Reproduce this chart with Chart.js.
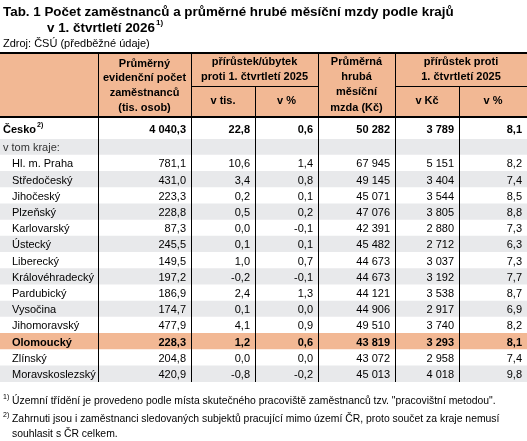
<!DOCTYPE html>
<html><head><meta charset="utf-8">
<script src="https://cdn.jsdelivr.net/npm/chart.js@4/dist/chart.umd.min.js"></script>
<style>html,body{margin:0;padding:0;background:#fff}#w{width:527px;height:441px}</style>
</head><body><div id="w"><canvas id="c"></canvas></div>
<script>
const regions = ['v tom kraje:','Hl. m. Praha','Středočeský','Jihočeský','Plzeňský','Karlovarský','Ústecký','Liberecký','Královéhradecký','Pardubický','Vysočina','Jihomoravský','Olomoucký','Zlínský','Moravskoslezský'];
const employees = ['', '781,1','431,0','223,3','228,8','87,3','245,5','149,5','197,2','186,9','174,7','477,9','228,3','204,8','420,9'];
const empChange = ['', '10,6','3,4','0,2','0,5','0,0','0,1','1,0','-0,2','2,4','0,1','4,1','1,2','0,0','-0,8'];
const empPct = ['', '1,4','0,8','0,1','0,2','-0,1','0,1','0,7','-0,1','1,3','0,0','0,9','0,6','0,0','-0,2'];
const wage = ['', '67 945','49 145','45 071','47 076','42 391','45 482','44 673','44 673','44 121','44 906','49 510','43 819','43 072','45 013'];
const wageChange = ['', '5 151','3 404','3 544','3 805','2 880','2 712','3 037','3 192','3 538','2 917','3 740','3 293','2 958','4 018'];
const wagePct = ['', '8,2','7,4','8,5','8,8','7,3','6,3','7,3','7,7','8,7','6,9','8,2','8,1','7,4','9,8'];
const totalRow = ['Česko','4 040,3','22,8','0,6','50 282','3 789','8,1'];
const highlight = 'Olomoucký';

const cols = [0,98,191,255,318,395,459,527];
const F = 'Liberation Sans, Arial, sans-serif';
const SAL = '#f2b894', GRAY = '#e8e9eb';

const rowColors = regions.map((r,i)=> r===highlight ? SAL : (i%2===0 ? GRAY : '#ffffff'));

const tablePlugin = {
  id:'table',
  beforeDraw(chart){
    const ctx = chart.ctx;
    ctx.save();
    ctx.fillStyle='#fff'; ctx.fillRect(0,0,chart.width,chart.height);
    ctx.restore();
  },
  afterDatasetsDraw(chart){
    const ctx = chart.ctx, ys = chart.scales.y, ca = chart.chartArea;
    ctx.save();
    ctx.textBaseline='middle';
    ctx.fillStyle='#000';
    ctx.font='bold 13.4px '+F; ctx.textAlign='left';
    ctx.fillText('Tab. 1 Počet zaměstnanců a průměrné hrubé měsíční mzdy podle krajů',3,12);
    ctx.fillText('v 1. čtvrtletí 2026',47,28);
    const tw = ctx.measureText('v 1. čtvrtletí 2026').width;
    ctx.font='bold 8px '+F; ctx.fillText('1)',47+tw+1,23);
    ctx.font='11px '+F; ctx.fillText('Zdroj: ČSÚ (předběžné údaje)',3,44);
    const hTop=53, hMid=86, hBot=117, cTop=118;
    ctx.fillStyle=SAL; ctx.fillRect(0,hTop,527,hBot-hTop);
    ctx.fillStyle='#000'; ctx.font='bold 11px '+F; ctx.textAlign='center';
    const ctr=(a,b)=>(cols[a]+cols[b])/2;
    [['Průměrný',64],['evidenční počet',78],['zaměstnanců',93],['(tis. osob)',108]].forEach(t=>ctx.fillText(t[0],ctr(1,2),t[1]));
    [['přírůstek/úbytek',62],['proti 1. čtvrtletí 2025',77]].forEach(t=>ctx.fillText(t[0],ctr(2,4),t[1]));
    [['Průměrná',62],['hrubá',77],['měsíční',92],['mzda (Kč)',108]].forEach(t=>ctx.fillText(t[0],ctr(4,5),t[1]));
    [['přírůstek proti',62],['1. čtvrtletí 2025',77]].forEach(t=>ctx.fillText(t[0],ctr(5,7),t[1]));
    ctx.fillText('v tis.',ctr(2,3),101); ctx.fillText('v %',ctr(3,4),101);
    ctx.fillText('v Kč',ctr(5,6),101); ctx.fillText('v %',ctr(6,7),101);
    ctx.textAlign='left'; ctx.fillText(totalRow[0],3,cTop+12);
    const w0=ctx.measureText(totalRow[0]).width;
    ctx.font='bold 7px '+F; ctx.fillText('2)',3+w0+1,cTop+7);
    ctx.font='bold 11px '+F; ctx.textAlign='right';
    for(let k=1;k<7;k++) ctx.fillText(totalRow[k],cols[k+1]-5,cTop+12);
    const cw = [employees,empChange,empPct,wage,wageChange,wagePct];
    regions.forEach((r,i)=>{
      const y = ys.getPixelForValue(i)+1;
      const bold = r===highlight;
      ctx.font=(bold?'bold ':'')+'11px '+F;
      ctx.fillStyle = i===0 ? '#333' : '#000';
      ctx.textAlign='left'; ctx.fillText(r, i===0?3:12, y);
      ctx.textAlign='right';
      cw.forEach((arr,k)=>{ if(arr[i]) ctx.fillText(arr[i],cols[k+2]-5,y); });
    });
    ctx.strokeStyle='#000';
    ctx.lineWidth=2;
    ctx.beginPath(); ctx.moveTo(0,hTop); ctx.lineTo(527,hTop);
    ctx.moveTo(0,hBot); ctx.lineTo(527,hBot); ctx.stroke();
    ctx.lineWidth=1;
    ctx.beginPath();
    [1,2,4,5].forEach(k=>{ctx.moveTo(cols[k]+0.5,hTop); ctx.lineTo(cols[k]+0.5,ca.bottom);});
    [3,6].forEach(k=>{ctx.moveTo(cols[k]+0.5,hMid); ctx.lineTo(cols[k]+0.5,ca.bottom);});
    ctx.moveTo(cols[2],hMid+0.5); ctx.lineTo(cols[4],hMid+0.5);
    ctx.moveTo(cols[5],hMid+0.5); ctx.lineTo(cols[7],hMid+0.5);
    ctx.stroke();
    ctx.fillStyle='#000'; ctx.textAlign='left';
    ctx.font='7px '+F; ctx.fillText('1)',3,397); ctx.fillText('2)',3,415);
    ctx.font='10.4px '+F;
    ctx.fillText('Územní třídění je provedeno podle místa skutečného pracoviště zaměstnanců tzv. "pracovištní metodou".',12,401);
    ctx.fillText('Zahrnuti jsou i zaměstnanci sledovaných subjektů pracující mimo území ČR, proto součet za kraje nemusí',12,419);
    ctx.fillText('souhlasit s ČR celkem.',12,434);
    ctx.restore();
  }
};

new Chart(document.getElementById('c'),{
  type:'bar',
  data:{labels:regions,datasets:[{data:regions.map(()=>[0,1]),backgroundColor:rowColors,barPercentage:1,categoryPercentage:1,borderWidth:0}]},
  options:{
    indexAxis:'y',responsive:true,maintainAspectRatio:false,animation:false,
    layout:{padding:{top:139,bottom:59,left:0,right:0}},
    plugins:{legend:{display:false},tooltip:{enabled:false}},
    scales:{x:{display:false,min:0,max:1},y:{display:false}}
  },
  plugins:[tablePlugin]
});
</script></body></html>
